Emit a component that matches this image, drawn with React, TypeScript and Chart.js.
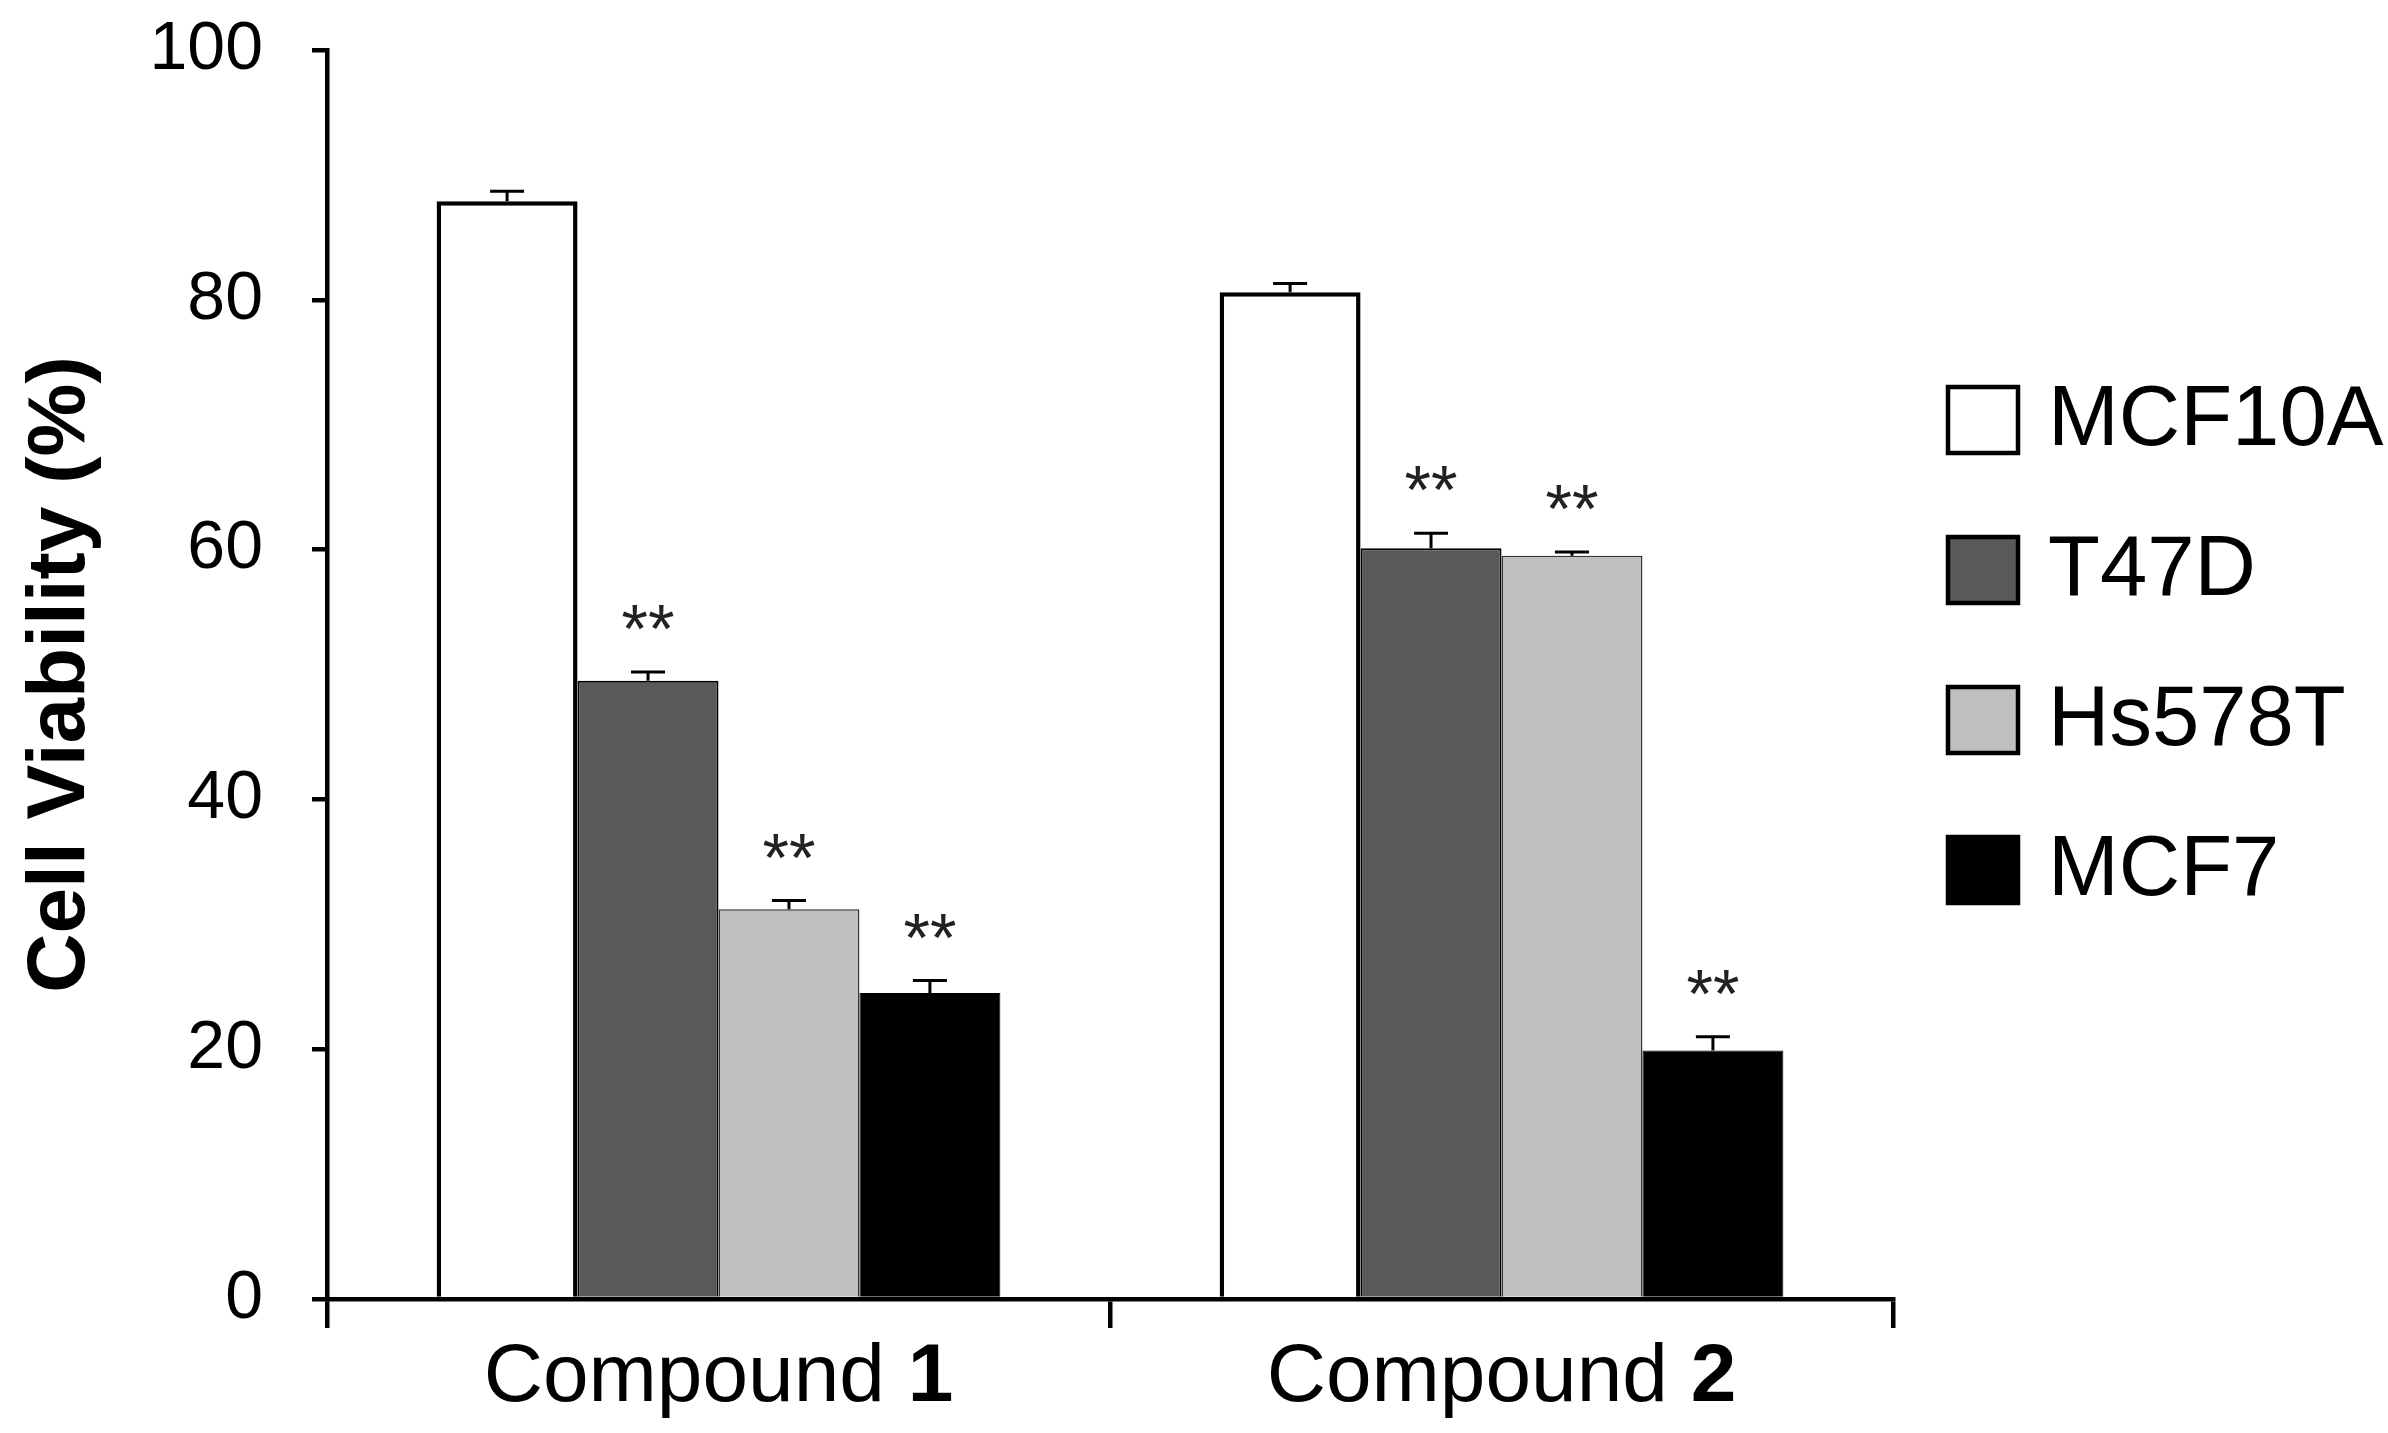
import React, { useEffect, useRef } from "react";
import { Chart, registerables } from "chart.js";

Chart.register(...registerables);

// ---- data ----
const categories = ["Compound 1", "Compound 2"];
const seriesNames = ["MCF10A", "T47D", "Hs578T", "MCF7"];
const mcf10aValues = [87.9, 80.6];
const t47dValues = [49.5, 60.1];
const hs578tValues = [31.2, 59.5];
const mcf7Values = [24.5, 19.9];
const mcf10aErrors = [0.8, 0.7];
const t47dErrors = [0.7, 1.2];
const hs578tErrors = [0.7, 0.3];
const mcf7Errors = [1.0, 1.1];
const mcf10aMarks = ["", ""];
const t47dMarks = ["**", "**"];
const hs578tMarks = ["**", "**"];
const mcf7Marks = ["**", "**"];
const yTickValues = [0, 20, 40, 60, 80, 100];
const yTitle = "Cell Viability (%)";

const FONT = "'Liberation Sans', Arial, sans-serif";

const errorPlugin = {
  id: "errorBarsStars",
  afterDatasetsDraw(chart: any) {
    const ctx = chart.ctx;
    const yScale = chart.scales.y;
    chart.data.datasets.forEach((ds: any, i: number) => {
      const meta = chart.getDatasetMeta(i);
      meta.data.forEach((el: any, j: number) => {
        const v = ds.data[j];
        const e = ds.errors[j];
        const yTop = yScale.getPixelForValue(v + e);
        const x = el.x;
        ctx.save();
        ctx.strokeStyle = "#000";
        ctx.lineWidth = 3;
        ctx.beginPath();
        ctx.moveTo(x, el.y);
        ctx.lineTo(x, yTop);
        ctx.moveTo(x - 17, yTop);
        ctx.lineTo(x + 17, yTop);
        ctx.stroke();
        const mark = ds.marks[j];
        if (mark) {
          ctx.fillStyle = "#222";
          ctx.font = `68px ${FONT}`;
          ctx.textAlign = "center";
          ctx.textBaseline = "alphabetic";
          ctx.fillText(mark, x, yTop - 20);
        }
        ctx.restore();
      });
    });
  },
};

const labelsLegendPlugin = {
  id: "labelsLegend",
  afterDraw(chart: any) {
    const ctx = chart.ctx;
    const xScale = chart.scales.x;
    const area = chart.chartArea;
    ctx.save();
    // category labels with bold compound number
    chart.data.labels.forEach((lab: string, j: number) => {
      const k = lab.lastIndexOf(" ");
      const a = lab.slice(0, k + 1);
      const b = lab.slice(k + 1);
      ctx.font = `82px ${FONT}`;
      const wa = ctx.measureText(a).width;
      ctx.font = `bold 82px ${FONT}`;
      const wb = ctx.measureText(b).width;
      const cx = xScale.getPixelForValue(j);
      const x0 = cx - (wa + wb) / 2;
      const y = area.bottom + 102;
      ctx.fillStyle = "#000";
      ctx.textAlign = "left";
      ctx.textBaseline = "alphabetic";
      ctx.font = `82px ${FONT}`;
      ctx.fillText(a, x0, y);
      ctx.font = `bold 82px ${FONT}`;
      ctx.fillText(b, x0 + wa, y);
    });
    // legend
    chart.data.datasets.forEach((ds: any, i: number) => {
      const bx = area.right + 55;
      const cy = area.top + 370 + i * 150;
      const w = 70;
      const h = 66;
      ctx.fillStyle = ds.backgroundColor;
      ctx.fillRect(bx, cy - h / 2, w, h);
      ctx.strokeStyle = "#000";
      ctx.lineWidth = 4.5;
      ctx.strokeRect(bx, cy - h / 2, w, h);
      ctx.fillStyle = "#000";
      ctx.font = `85px ${FONT}`;
      ctx.textAlign = "left";
      ctx.textBaseline = "middle";
      ctx.fillText(ds.label, bx + 100, cy + 2);
    });
    ctx.restore();
  },
};

export default function App() {
  const ref = useRef<HTMLCanvasElement | null>(null);
  useEffect(() => {
    if (!ref.current) return;
    const mk = (
      label: string,
      data: number[],
      errors: number[],
      marks: string[],
      bg: string,
      border: string,
      bw: number
    ) => ({
      label,
      data,
      errors,
      marks,
      backgroundColor: bg,
      borderColor: border,
      borderWidth: bw,
      borderSkipped: "bottom",
      categoryPercentage: 0.72,
      barPercentage: 1.0,
    });
    const chart = new Chart(ref.current, {
      type: "bar",
      data: {
        labels: categories,
        datasets: [
          mk(seriesNames[0], mcf10aValues, mcf10aErrors, mcf10aMarks, "#ffffff", "#000000", 4.5),
          mk(seriesNames[1], t47dValues, t47dErrors, t47dMarks, "#595959", "#000000", 2),
          mk(seriesNames[2], hs578tValues, hs578tErrors, hs578tMarks, "#bfbfbf", "#333333", 1.5),
          mk(seriesNames[3], mcf7Values, mcf7Errors, mcf7Marks, "#000000", "#000000", 1),
        ] as any,
      },
      options: {
        animation: false,
        responsive: true,
        maintainAspectRatio: false,
        devicePixelRatio: 1,
        layout: { padding: { top: 50, right: 495, left: 0, bottom: 0 } },
        plugins: { legend: { display: false }, tooltip: { enabled: false } },
        scales: {
          x: {
            type: "category",
            offset: true,
            grid: {
              display: true,
              offset: true,
              drawOnChartArea: false,
              drawTicks: true,
              tickLength: 29,
              color: "#000",
              lineWidth: 4.5,
            },
            border: { display: true, color: "#000", width: 4.5 },
            ticks: { display: false },
            afterFit(scale: any) {
              scale.height = 134;
            },
          },
          y: {
            min: 0,
            max: 100,
            afterBuildTicks(scale: any) {
              scale.ticks = yTickValues.map((v) => ({ value: v }));
            },
            grid: {
              display: true,
              drawOnChartArea: false,
              drawTicks: true,
              tickLength: 15,
              color: "#000",
              lineWidth: 4.5,
            },
            border: { display: true, color: "#000", width: 4.5 },
            ticks: {
              color: "#000",
              padding: 49,
              font: { family: FONT, size: 68 },
            },
            title: {
              display: true,
              text: yTitle,
              color: "#000",
              padding: { top: 12, bottom: 0 },
              font: { family: FONT, size: 82, weight: "bold", lineHeight: 1.2 },
            },
            afterFit(scale: any) {
              scale.width = 327;
              scale.paddingTop = 0;
              scale.paddingBottom = 0;
            },
          },
        },
      } as any,
      plugins: [errorPlugin, labelsLegendPlugin],
    });
    return () => chart.destroy();
  }, []);
  return (
    <div style={{ position: "absolute", left: 0, top: 0, width: 2388, height: 1433, background: "#fff" }}>
      <canvas ref={ref} />
    </div>
  );
}
